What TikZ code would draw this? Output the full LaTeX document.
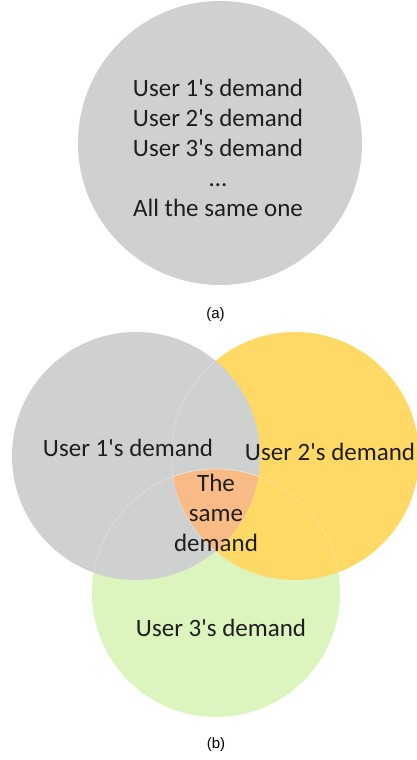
\documentclass[tikz,border=0pt]{standalone}
\usepackage{fontspec}
\newfontfamily\calibrifont{Carlito}
\newfontfamily\arialfont{Liberation Sans}
\usepackage{tikz}
\usetikzlibrary{positioning,calc}
\definecolor{demgray}{HTML}{CFD0D0}
\definecolor{demyellow}{HTML}{FFD966}
\definecolor{demgreen}{HTML}{DCF4BE}
\definecolor{demorange}{HTML}{F9BB86}
\definecolor{demtext}{HTML}{1E1E1E}
\tikzset{
  demtxt/.style={text=demtext,align=center,inner sep=0pt,font=\calibrifont\fontsize{25}{30}\selectfont},
  captxt/.style={text=black,inner sep=0pt,font=\arialfont\fontsize{15}{18}\selectfont},
  rim/.style={draw=white,draw opacity=0.55,line width=0.3pt}
}

\begin{document}
\begin{tikzpicture}[x=1pt,y=-1pt]
	\useasboundingbox (0,0) rectangle (416,760);
	%Centres
	\coordinate (Ca) at (220,143);
	\coordinate (C1) at (136,456);
	\coordinate (C2) at (295,456);
	\coordinate (C3) at (216,593);
	
	%(a)
	\fill[demgray] (Ca) circle[radius=142pt];
	\node[demtxt] (same) at (218,148) {User 1's demand\\User 2's demand\\User 3's demand\\…\\All the same one};
	\node[captxt] (capa) at (215.5,315) {(a)};
	
	%(b)
	\fill[demgreen] (C3) circle[radius=124pt];
	\fill[demyellow] (C2) circle[radius=124pt];
	\fill[demgray] (C1) circle[radius=124pt];
	\begin{scope}
		\clip (C1) circle[radius=124pt];
		\clip (C2) circle[radius=124pt];
		\fill[demorange] (C3) circle[radius=124pt];
	\end{scope}
	%faint rims inside the overlaps
	\begin{scope}
		\clip (C1) circle[radius=124pt];
		\draw[rim] (C2) circle[radius=124pt];
		\draw[rim] (C3) circle[radius=124pt];
	\end{scope}
	\begin{scope}
		\clip (C2) circle[radius=124pt];
		\draw[rim] (C3) circle[radius=124pt];
	\end{scope}
	
	\node[demtxt] (u1) at (128,448) {User 1's demand};
	\node[demtxt] (u2) at (330,452) {User 2's demand};
	\node[demtxt] (u3) at (221,628) {User 3's demand};
	\node[demtxt] (common) at (216,513) {The\\same\\demand};
	\node[captxt] (capb) at (216,745) {(b)};
\end{tikzpicture}
\end{document}
